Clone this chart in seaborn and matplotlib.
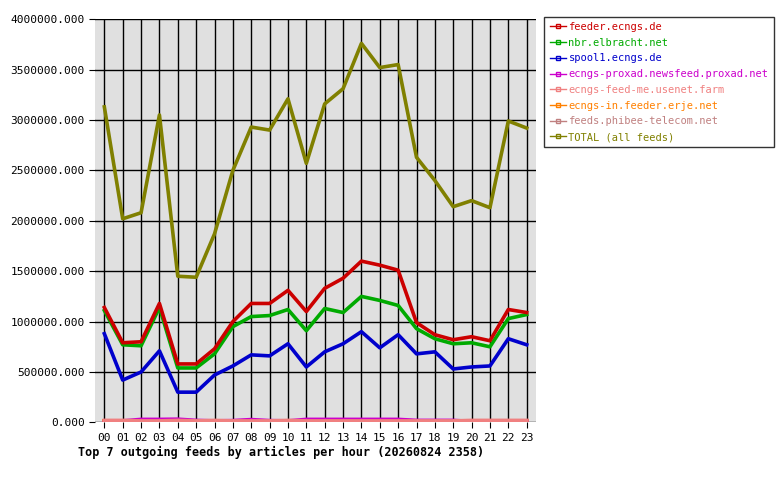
import matplotlib
matplotlib.use("Agg")
import matplotlib.pyplot as plt
import seaborn as sns
import pandas as pd
from matplotlib.lines import Line2D

hours = [f"{h:02d}" for h in range(24)]
total = [3130000,2020000,2080000,3050000,1450000,1440000,1870000,2500000,2930000,2900000,3210000,2570000,
         3160000,3310000,3760000,3520000,3550000,2630000,2400000,2140000,2200000,2130000,2990000,2920000]
feeder = [1140000,790000,800000,1180000,580000,580000,730000,1000000,1180000,1180000,1310000,1100000,
          1330000,1430000,1600000,1560000,1510000,990000,870000,820000,850000,810000,1120000,1090000]
nbr = [1110000,770000,760000,1140000,540000,540000,680000,950000,1050000,1060000,1120000,910000,
       1130000,1090000,1250000,1210000,1160000,930000,830000,780000,790000,750000,1030000,1070000]
spool1 = [880000,420000,500000,710000,300000,300000,470000,560000,670000,660000,780000,550000,
          700000,780000,900000,740000,870000,680000,700000,530000,550000,560000,830000,770000]
proxad = [0,15000,30000,30000,32000,20000,15000,18000,28000,18000,15000,30000,
          30000,30000,30000,30000,30000,20000,20000,20000,10000,10000,10000,10000]
feedme = [20000,20000,15000,15000,20000,15000,20000,15000,15000,15000,20000,15000,
          15000,15000,15000,15000,15000,15000,15000,15000,20000,20000,20000,20000]
erje = [10000]*24
phibee = [12000]*24

series = [
    ("feeder.ecngs.de", feeder, "#cc0000"),
    ("nbr.elbracht.net", nbr, "#00aa00"),
    ("spool1.ecngs.de", spool1, "#0000cc"),
    ("ecngs-proxad.newsfeed.proxad.net", proxad, "#cc00cc"),
    ("ecngs-feed-me.usenet.farm", feedme, "#f08080"),
    ("ecngs-in.feeder.erje.net", erje, "#ff8000"),
    ("feeds.phibee-telecom.net", phibee, "#c08080"),
    ("TOTAL (all feeds)", total, "#808000"),
]
rows = []
for name, vals, c in series:
    for h, v in zip(range(24), vals):
        rows.append({"hour": h, "value": v, "feed": name})
df = pd.DataFrame(rows)

plt.rcParams['font.family'] = ['DejaVu Sans Mono']
fig = plt.figure(figsize=(7.8, 4.8), dpi=100)
ax = fig.add_axes([0.122, 0.12, 0.565, 0.84])
ax.set_facecolor("#e0e0e0")
palette = {n: c for n, _, c in series}
draw_order = ["TOTAL (all feeds)", "feeds.phibee-telecom.net", "ecngs-in.feeder.erje.net",
              "ecngs-proxad.newsfeed.proxad.net", "ecngs-feed-me.usenet.farm",
              "spool1.ecngs.de", "nbr.elbracht.net", "feeder.ecngs.de"]
for n in draw_order:
    sns.lineplot(data=df[df.feed == n], x="hour", y="value", color=palette[n], lw=2.6, ax=ax, legend=False)

ax.set_xlim(-0.5, 23.5)
ax.set_ylim(0, 4000000)
ax.set_xticks(range(24))
ax.set_xticklabels(hours, fontsize=8)
yt = list(range(0, 4000001, 500000))
ax.set_yticks(yt)
ax.set_yticklabels([f"{v}.000" for v in yt], fontsize=8)
ax.grid(True, color="black", lw=1)
ax.set_axisbelow(True)
ax.set_xlabel(""); ax.set_ylabel("")
for s in ax.spines.values():
    s.set_visible(False)
ax.tick_params(length=4)

handles = [Line2D([0], [0], color=c, lw=1, marker='s', markersize=3, markerfacecolor='none') for _, _, c in series]
leg = fig.legend(handles, [n for n, *_ in series], loc="upper left", bbox_to_anchor=(0.698, 0.965),
                 fontsize=7.5, frameon=True, fancybox=False, edgecolor="black", handlelength=1.6,
                 handletextpad=0.2, labelspacing=0.55, borderpad=0.5, borderaxespad=0)
for t, (_, _, c) in zip(leg.get_texts(), series):
    t.set_color(c)
fig.text(0.10, 0.05, "Top 7 outgoing feeds by articles per hour (20260824 2358)", fontsize=8.5, fontweight="bold")
fig.savefig("out.png", dpi=100)
